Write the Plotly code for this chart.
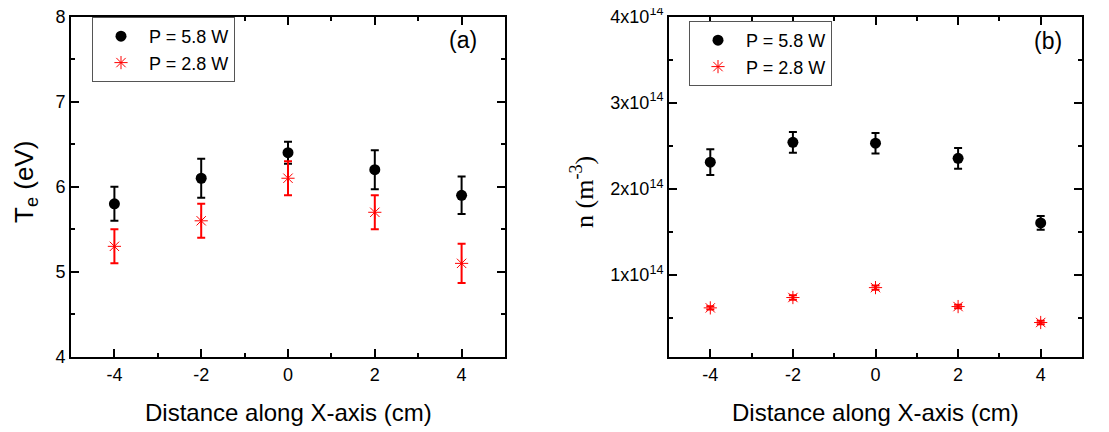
import plotly.graph_objects as go

# ---------------- data ----------------
x_pos = [-4, -2, 0, 2, 4]

te_58 = [5.8, 6.1, 6.4, 6.2, 5.9]
te_58_err = [0.2, 0.23, 0.13, 0.23, 0.22]
te_28 = [5.3, 5.6, 6.1, 5.7, 5.1]
te_28_err = [0.2, 0.2, 0.2, 0.2, 0.23]

n_58 = [2.31e14, 2.54e14, 2.53e14, 2.355e14, 1.605e14]
n_58_err = [0.15e14, 0.12e14, 0.12e14, 0.12e14, 0.08e14]
n_28 = [0.62e14, 0.74e14, 0.855e14, 0.635e14, 0.45e14]
n_28_err = [0.02e14, 0.025e14, 0.025e14, 0.02e14, 0.02e14]

labels = ["P = 5.8 W", "P = 2.8 W"]
n_tickvals = [1e14, 2e14, 3e14, 4e14]
n_ticktext = ["1x10<sup>14</sup>", "2x10<sup>14</sup>", "3x10<sup>14</sup>", "4x10<sup>14</sup>"]

# ---------------- figure ----------------
W, H = 1109, 432
OFF = 8  # page body margin offset
FONT = "Liberation Sans, Arial, sans-serif"

def px(v):
    return (v - OFF) / W

def py(v):
    return 1 - (v - OFF) / H

fig = go.Figure()

black_m = dict(symbol="circle", size=11, color="black")
red_m = dict(symbol="asterisk-open", size=11, color="red", line=dict(color="red", width=1))

fig.add_trace(go.Scatter(x=x_pos, y=te_58, mode="markers", name=labels[0], marker=black_m,
                         error_y=dict(type="data", array=te_58_err, color="black", thickness=2, width=4),
                         xaxis="x", yaxis="y", legend="legend"))
fig.add_trace(go.Scatter(x=x_pos, y=te_28, mode="markers", name=labels[1], marker=red_m,
                         error_y=dict(type="data", array=te_28_err, color="red", thickness=2, width=4),
                         xaxis="x", yaxis="y", legend="legend"))
fig.add_trace(go.Scatter(x=x_pos, y=n_58, mode="markers", name=labels[0], marker=black_m,
                         error_y=dict(type="data", array=n_58_err, color="black", thickness=2, width=4),
                         xaxis="x2", yaxis="y2", legend="legend2"))
fig.add_trace(go.Scatter(x=x_pos, y=n_28, mode="markers", name=labels[1], marker=red_m,
                         error_y=dict(type="data", array=n_28_err, color="red", thickness=2, width=4),
                         xaxis="x2", yaxis="y2", legend="legend2"))

ydom = [py(357), py(16.5)]

common = dict(showline=True, linecolor="black", linewidth=2, mirror="ticks", ticks="inside",
              ticklen=8, tickwidth=2, tickcolor="black", showgrid=False, zeroline=False,
              automargin=False, ticklabeloverflow="allow",
              tickfont=dict(family=FONT, size=18, color="black"))

xcommon = dict(common, range=[-5, 5], tickvals=x_pos, ticktext=["-4", "-2", "0", "2", "4"],
               minor=dict(dtick=1, tick0=0, ticks="inside", ticklen=4, tickwidth=2, tickcolor="black", showgrid=False))

fig.update_layout(
    width=W, height=H,
    margin=dict(l=0, r=0, t=0, b=0, autoexpand=False),
    paper_bgcolor="white", plot_bgcolor="white",
    showlegend=True,
    xaxis=dict(xcommon, domain=[px(71), px(505)], anchor="y"),
    yaxis=dict(common, domain=ydom, anchor="x", range=[4, 8.0001], tickvals=[4, 5, 6, 7, 8],
               minor=dict(dtick=0.5, tick0=4, ticks="inside", ticklen=4, tickwidth=2, tickcolor="black", showgrid=False)),
    xaxis2=dict(xcommon, domain=[px(669), px(1082)], anchor="y2"),
    yaxis2=dict(common, domain=ydom, anchor="x2", range=[0.05e14, 4.0001e14],
                tickmode="array", tickvals=n_tickvals, ticktext=n_ticktext,
                minor=dict(dtick=0.5e14, tick0=0, ticks="inside", ticklen=4, tickwidth=2, tickcolor="black", showgrid=False)),
    legend=dict(x=px(92), y=py(17), xanchor="left", yanchor="top", bgcolor="white",
                bordercolor="#555", borderwidth=1, font=dict(family=FONT, size=18, color="black"),
                itemwidth=46, tracegroupgap=0),
    legend2=dict(x=px(689), y=py(21), xanchor="left", yanchor="top", bgcolor="white",
                 bordercolor="#555", borderwidth=1, font=dict(family=FONT, size=18, color="black"),
                 itemwidth=46, tracegroupgap=0),
)

def note(text, x, y, size, family=FONT, angle=0):
    return dict(text=text, x=px(x), y=py(y), xref="paper", yref="paper", xanchor="center", yanchor="middle",
                showarrow=False, textangle=angle, font=dict(family=family, size=size, color="black"))

ann = [
    note("Distance along X-axis (cm)", 288, 412, 24),
    note("Distance along X-axis (cm)", 875, 412, 24),
    note("T<sub>e</sub> (eV)", 25, 182, 26, angle=-90),
    note("n (m<sup>-3</sup>)", 582, 192, 26, family="Liberation Serif, Times New Roman, serif", angle=-90),
    note("(a)", 463, 40, 23),
    note("(b)", 1048, 41, 23),
]
fig.update_layout(annotations=ann)

fig.write_html("out.html")
